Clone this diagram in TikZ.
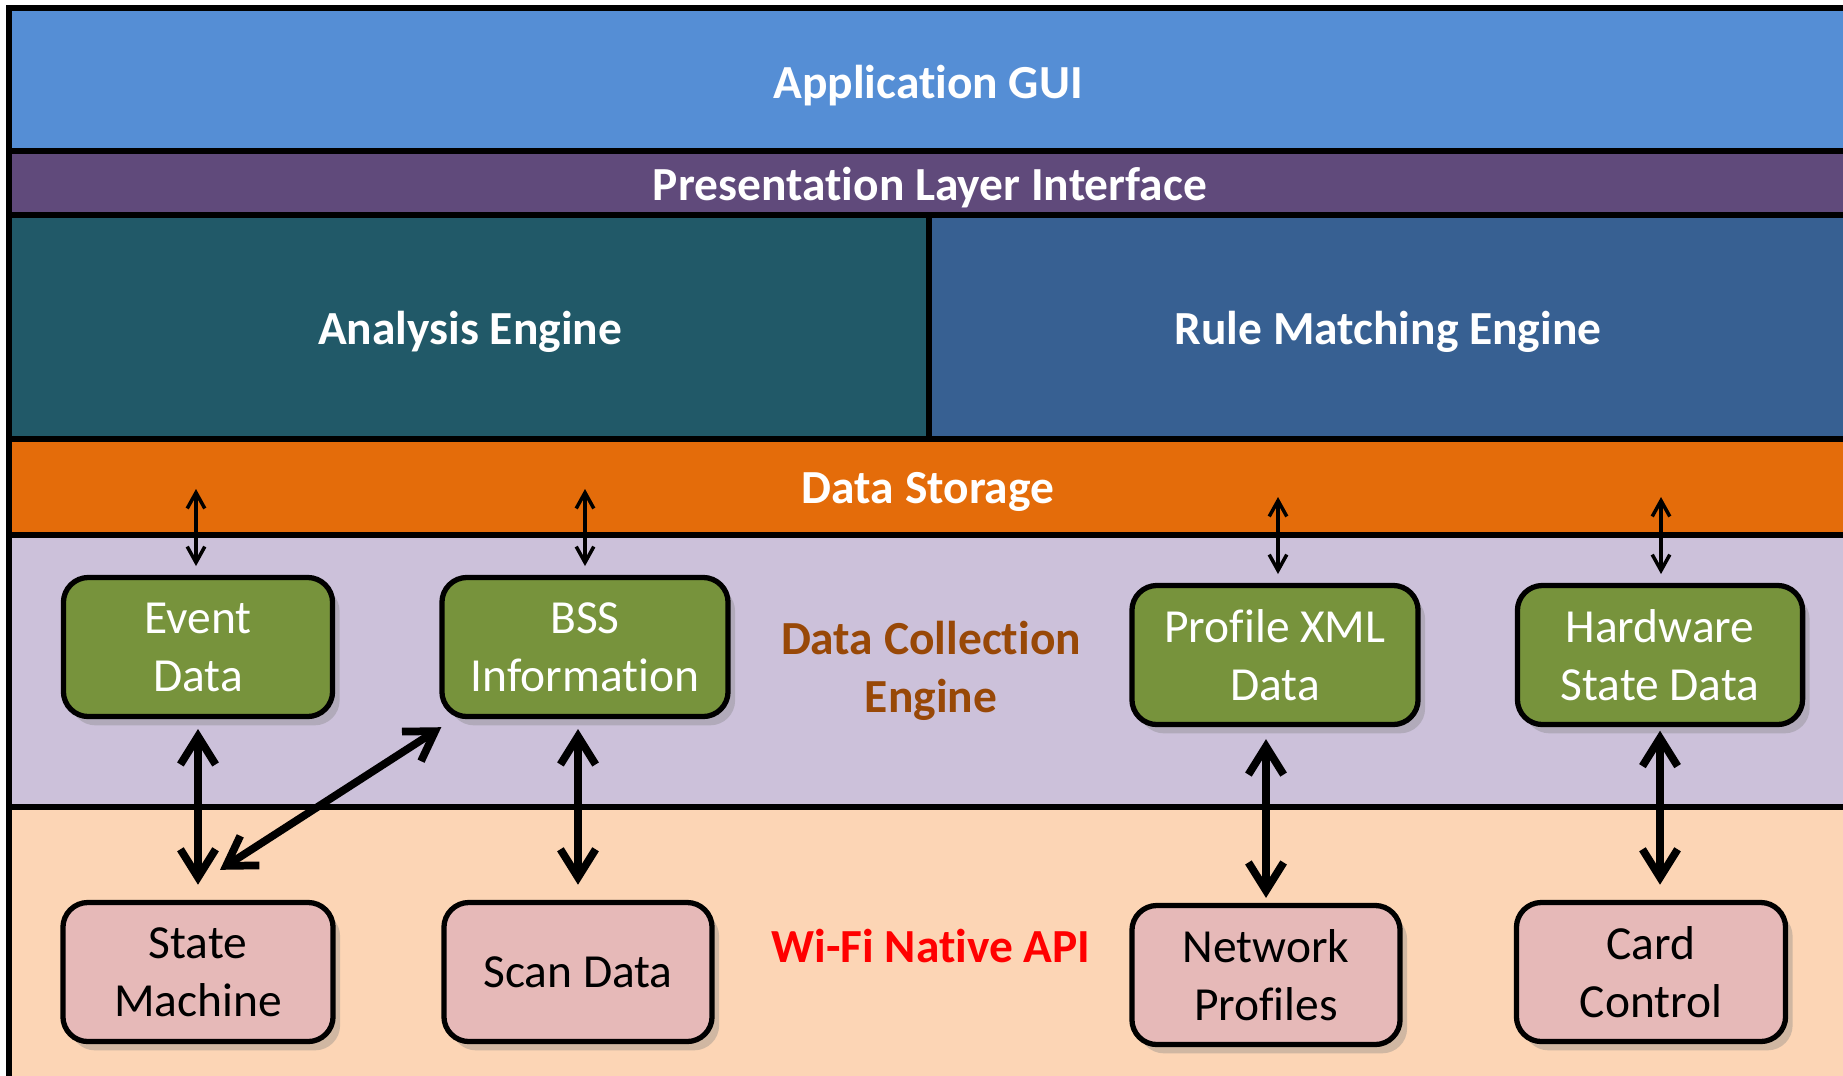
\documentclass[tikz,border=0pt]{standalone}
\usepackage{fontspec}
\setmainfont[Ligatures=CommonOff]{Carlito}
\usetikzlibrary{arrows.meta,shadows}

\definecolor{guiblue}{HTML}{558ED5}
\definecolor{presviolet}{HTML}{604A7B}
\definecolor{anateal}{HTML}{215968}
\definecolor{ruleblue}{HTML}{376092}
\definecolor{storeorange}{HTML}{E46C0A}
\definecolor{collectlav}{HTML}{CCC1DA}
\definecolor{apipeach}{HTML}{FCD5B5}
\definecolor{datagreen}{HTML}{77933C}
\definecolor{apipink}{HTML}{E6B9B8}
\definecolor{collectbrown}{HTML}{984807}

\begin{document}
\begin{tikzpicture}[x=0.01cm, y=-0.01cm,
    layer/.style={draw=black, line width=1.5pt},
    headtext/.style={text=white, font=\fontsize{13.5}{16.5}\selectfont\bfseries},
    databox/.style={draw=black, line width=1.5pt, rounded corners=0.25cm,
        fill=datagreen, text=white, align=center,
        font=\fontsize{13.5}{16.5}\selectfont,
        minimum width=2.69cm, minimum height=1.39cm,
        drop shadow={opacity=0.35, shadow xshift=2pt, shadow yshift=-2.5pt}},
    apibox/.style={databox, fill=apipink, text=black},
    thinarrow/.style={{Straight Barb[length=4.5pt,width=5pt]}-{Straight Barb[length=4.5pt,width=5pt]}, line width=1pt},
    thickarrow/.style={{Straight Barb[length=8pt,width=10pt]}-{Straight Barb[length=8pt,width=10pt]}, line width=2.2pt}]

    \useasboundingbox (0,0) rectangle (1843,1075);
    \clip (0,0) rectangle (1843,1075);

    % 分层背景
    \draw[layer, fill=guiblue] (9,8) rectangle (1900,151);
    \draw[layer, fill=presviolet] (9,151) rectangle (1900,215);
    \draw[layer, fill=anateal] (9,215) rectangle (929,439);
    \draw[layer, fill=ruleblue] (929,215) rectangle (1900,439);
    \draw[layer, fill=storeorange] (9,439) rectangle (1900,535);
    \draw[layer, fill=collectlav] (9,535) rectangle (1900,807);
    \draw[layer, fill=apipeach] (9,807) rectangle (1900,1100);

    % 层标题
    \node[headtext] (gui) at (928,86) {Application GUI};
    \node[headtext] (pli) at (930,188) {Presentation Layer Interface};
    \node[headtext] (ana) at (470,332) {Analysis Engine};
    \node[headtext] (rme) at (1388,332) {Rule Matching Engine};
    \node[headtext] (dst) at (928,492) {Data Storage};
    \node[headtext, text=collectbrown, align=center] (dce) at (931,671) {Data Collection\\Engine};
    \node[headtext, text=red] (wfa) at (931,946) {Wi-Fi Native API};

    % 数据采集模块
    \node[databox] (evt) at (198,647) {Event\\Data};
    \node[databox, minimum width=2.86cm] (bss) at (585,647) {BSS\\Information};
    \node[databox, minimum width=2.86cm] (pxml) at (1275,655) {Profile XML\\Data};
    \node[databox, minimum width=2.85cm] (hwsd) at (1660,655) {Hardware\\State Data};

    % 原生接口模块
    \node[apibox, minimum width=2.70cm] (stm) at (198,972) {State\\Machine};
    \node[apibox, minimum width=2.68cm] (scan) at (578,972) {Scan Data};
    \node[apibox, minimum width=2.68cm] (netp) at (1266,975) {Network\\Profiles};
    \node[apibox] (card) at (1651,972) {Card\\Control};

    % 与数据存储之间的细箭头
    \coordinate (s1) at (196,489);
    \coordinate (s2) at (585,489);
    \coordinate (s3) at (1278,497);
    \coordinate (s4) at (1661,497);
    \draw[thinarrow, shorten >=2.5pt] (s1) -- (s1 |- evt.north);
    \draw[thinarrow, shorten >=2.5pt] (s2) -- (s2 |- bss.north);
    \draw[thinarrow, shorten >=2.5pt] (s3) -- (s3 |- pxml.north);
    \draw[thinarrow, shorten >=2.5pt] (s4) -- (s4 |- hwsd.north);

    % 上下层之间的粗箭头
    \draw[thickarrow, shorten <=2.8pt, shorten >=4.3pt] (evt.south) -- (evt.south |- stm.north);
    \draw[thickarrow, shorten <=2.8pt, shorten >=4.3pt] (scan.north |- bss.south) -- (scan.north);
    \draw[thickarrow, shorten <=3.4pt, shorten >=1.4pt] (netp.north |- pxml.south) -- (netp.north);
    \draw[thickarrow, shorten <=1pt, shorten >=4.3pt] (hwsd.south) -- (hwsd.south |- card.north);
    \draw[thickarrow] ([xshift=0.02cm, yshift=-0.08cm]bss.south west) -- ([xshift=0.22cm, yshift=0.3cm]stm.north);
\end{tikzpicture}
\end{document}
